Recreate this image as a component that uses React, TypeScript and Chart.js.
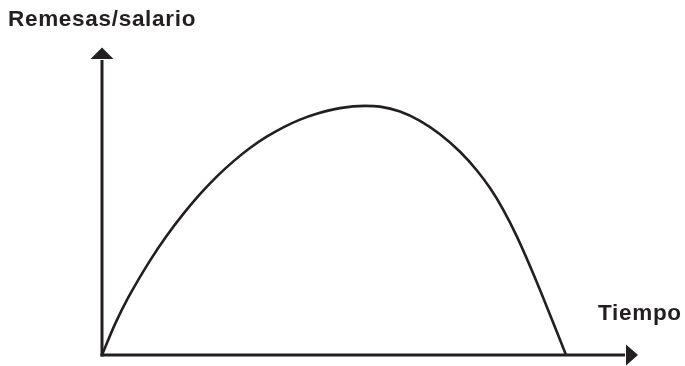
import React, { useEffect, useRef } from "react";
import { Chart, registerables } from "chart.js";

Chart.register(...registerables);

// Tiempo (x, arbitrary units 0..100) vs Remesas/salario (y, arbitrary units 0..100)
const tiempo = [0, 2.48, 5.02, 9.16, 12.35, 15.52, 18.7, 21.89, 25.06, 28.24, 31.43, 34.6, 37.79, 40.97, 45.42, 50.19, 53.05, 56.87, 60.69, 64.5, 68.32, 71.51, 74.05, 76.53, 79.14, 82.96, 86.13, 88.55];
const remesasSalario = [0, 10.44, 19.43, 31.89, 40.27, 47.67, 54.32, 60.24, 65.41, 69.93, 73.75, 76.93, 79.53, 81.52, 83.41, 84.16, 83.92, 82.26, 79.12, 74.59, 68.65, 62.43, 56.39, 49.22, 40.17, 24.7, 10.81, 0];
const yAxisLabel = "Remesas/salario";
const xAxisLabel = "Tiempo";

const INK = "#231f20";
const FONT = "bold 22.5px 'Liberation Sans', Arial, sans-serif";

const axesPlugin = {
  id: "arrowAxes",
  afterDatasetsDraw(chart: any) {
    const { ctx, chartArea } = chart;
    const xs = chart.scales.x;
    const ys = chart.scales.y;
    const x0 = xs.getPixelForValue(0);
    const y0 = ys.getPixelForValue(0);
    const yTop = chartArea.top;
    const xRight = chartArea.right;
    ctx.save();
    ctx.strokeStyle = INK;
    ctx.fillStyle = INK;
    ctx.lineWidth = 3;
    ctx.lineCap = "butt";
    // y axis
    ctx.beginPath();
    ctx.moveTo(x0, y0 + 1.5);
    ctx.lineTo(x0, yTop + 1);
    ctx.stroke();
    // x axis
    ctx.beginPath();
    ctx.moveTo(x0 - 1.5, y0);
    ctx.lineTo(xRight - 1, y0);
    ctx.stroke();
    // arrow up
    ctx.beginPath();
    ctx.moveTo(x0, yTop - 11.5);
    ctx.lineTo(x0 + 11.5, yTop);
    ctx.lineTo(x0 - 11.5, yTop);
    ctx.closePath();
    ctx.fill();
    // arrow right
    ctx.beginPath();
    ctx.moveTo(xRight + 12, y0);
    ctx.lineTo(xRight, y0 - 10.5);
    ctx.lineTo(xRight, y0 + 10.5);
    ctx.closePath();
    ctx.fill();
    // labels
    ctx.font = FONT;
    (ctx as any).letterSpacing = "0.7px";
    ctx.textBaseline = "alphabetic";
    ctx.textAlign = "left";
    ctx.fillText(yAxisLabel, 8, 26);
    ctx.fillText(xAxisLabel, 598, 320);
    ctx.restore();
  },
};

export default function App() {
  const canvasRef = useRef<HTMLCanvasElement | null>(null);

  useEffect(() => {
    if (!canvasRef.current) return;
    const chart = new Chart(canvasRef.current, {
      type: "line",
      data: {
        datasets: [
          {
            data: tiempo.map((t, i) => ({ x: t, y: remesasSalario[i] })),
            borderColor: INK,
            borderWidth: 2.6,
            pointRadius: 0,
            fill: false,
            cubicInterpolationMode: "monotone",
          },
        ],
      },
      options: {
        animation: false,
        responsive: false,
        maintainAspectRatio: false,
        layout: { padding: { left: 102, top: 59, right: 59, bottom: 11 } },
        plugins: { legend: { display: false }, tooltip: { enabled: false }, title: { display: false } },
        scales: {
          x: { type: "linear", min: 0, max: 100, display: false },
          y: { type: "linear", min: 0, max: 100, display: false },
        },
      },
      plugins: [axesPlugin],
    });
    return () => chart.destroy();
  }, []);

  return (
    <div style={{ position: "fixed", left: 0, top: 0, width: 685, height: 366, background: "#fff" }}>
      <canvas ref={canvasRef} width={685} height={366} style={{ width: 685, height: 366, display: "block" }} />
    </div>
  );
}
